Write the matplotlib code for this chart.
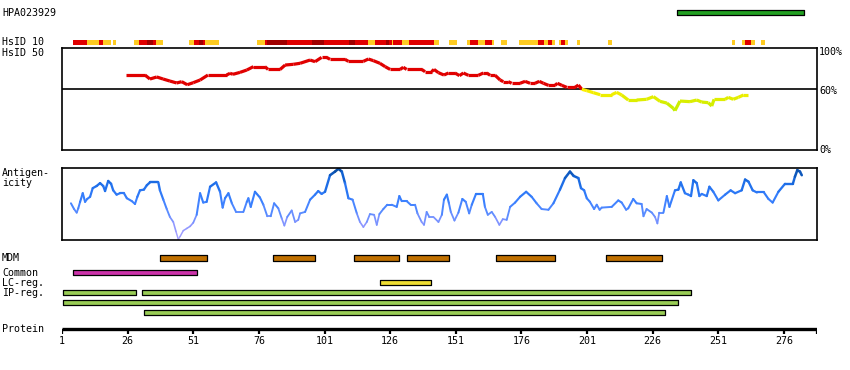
import numpy as np
import matplotlib
matplotlib.use("Agg")
import matplotlib.pyplot as plt
from matplotlib.collections import LineCollection
from matplotlib.colors import LinearSegmentedColormap, to_rgb

# ---- data (residue numbers) ----
axis_end = 288.6
tick_res = [1, 26, 51, 76, 101, 126, 151, 176, 201, 226, 251, 276]

hpa_bar = (235.3, 283.6)

# HsID 10 strip: 1 = gold, 2 = red, 3 = dark red
hsid10_start = [5.2, 10.5, 15.1, 16.6, 20.4, 28.4, 30.3, 33.4, 35.7, 36.8,
                49.4, 51.3, 53.2, 54.7, 55.5, 75.3, 78.3, 79.1, 86.7, 96.2,
                100.8, 110.3, 112.6, 117.6, 120.2, 124.4, 125.6, 126.7, 127.1, 130.5,
                133.2, 142.7, 148.4, 155.3, 156.4, 159.5, 162.1, 164.8, 168.2, 175.1,
                182.3, 184.6, 186.1, 187.7, 190.3, 191.1, 192.6, 197.3, 209.1, 256.4,
                260.2, 261.3, 263.6, 267.2]
hsid10_end = [10.5, 15.1, 16.6, 19.7, 21.6, 30.3, 33.4, 35.7, 36.8, 39.5,
              51.3, 53.2, 54.7, 55.5, 60.8, 78.3, 79.1, 86.7, 96.2, 100.8,
              110.3, 112.6, 117.6, 120.2, 124.4, 125.6, 126.7, 127.1, 130.5, 133.2,
              142.7, 144.6, 151.5, 156.4, 159.5, 162.1, 164.8, 165.6, 170.5, 182.3,
              184.6, 186.1, 187.7, 188.8, 191.1, 192.6, 193.8, 198.5, 210.7, 257.5,
              261.3, 263.6, 264.8, 268.7]
hsid10_level = [2, 1, 2, 1, 1, 1, 2, 3, 2, 1,
                1, 2, 3, 2, 1, 1, 2, 3, 2, 3,
                2, 3, 2, 1, 2, 3, 2, 1, 2, 1,
                2, 1, 1, 1, 2, 1, 2, 1, 1, 1,
                2, 1, 2, 1, 1, 2, 1, 1, 1, 1,
                1, 2, 1, 1]

# HsID 50 identity (%)
hsid50_res = [25.4, 32.6, 34.5, 37.1, 39.5, 42.1, 44.7, 46.6, 48.7, 51.0,
              53.6, 56.6, 63.7, 65.0, 66.1, 68.8, 71.4, 73.9, 78.3, 79.5,
              84.1, 86.0, 89.1, 91.7, 95.5, 97.4, 99.9, 101.8, 103.1, 108.8,
              110.1, 115.8, 117.7, 119.6, 122.1, 124.1, 126.0, 129.8, 131.0, 132.3,
              138.0, 139.3, 141.8, 142.7, 144.4, 146.5, 148.2, 150.7, 152.4, 153.9,
              155.8, 159.6, 161.5, 162.8, 164.1, 166.0, 167.9, 169.1, 171.0, 172.3,
              175.5, 177.4, 179.3, 181.2, 182.8, 184.4, 186.3, 188.8, 189.7, 191.4,
              193.3, 196.4, 197.7, 199.0, 200.9, 203.4, 206.0, 210.4, 212.3, 214.2,
              216.7, 219.9, 223.7, 226.3, 228.8, 231.4, 233.9, 234.5, 236.4, 240.2,
              242.8, 244.7, 247.2, 248.5, 249.4, 253.6, 254.8, 256.7, 258.6, 260.6,
              262.5]
hsid50_val = [73.5, 73.5, 69.6, 71.6, 69.6, 67.6, 65.7, 67.0, 64.0, 66.0,
              68.6, 73.5, 73.5, 75.2, 74.2, 76.1, 78.4, 81.7, 81.7, 79.0,
              79.0, 83.3, 84.0, 85.0, 88.2, 86.6, 90.8, 90.8, 88.9, 88.9,
              86.9, 86.9, 89.2, 87.6, 85.0, 81.7, 79.0, 79.0, 81.1, 79.0,
              79.0, 76.8, 76.8, 79.0, 75.8, 73.5, 75.5, 75.5, 72.9, 75.5,
              73.2, 73.2, 75.5, 75.5, 73.2, 73.2, 68.6, 67.0, 67.0, 65.4,
              65.4, 67.3, 65.4, 65.4, 67.3, 65.4, 63.4, 63.4, 65.4, 63.4,
              61.4, 61.4, 63.7, 59.5, 58.2, 56.2, 54.2, 54.2, 56.5, 53.9,
              49.0, 49.0, 49.7, 52.3, 47.7, 46.0, 40.8, 38.6, 48.0, 47.4,
              49.0, 47.0, 46.4, 43.1, 49.7, 49.7, 51.6, 49.7, 51.6, 53.9,
              53.9]

# antigenicity (0-100 within the panel)
antigen_res = [4.4, 5.6, 6.6, 7.2, 7.9, 8.9, 9.8, 10.6, 11.7, 12.7,
               14.2, 15.5, 16.7, 17.4, 18.6, 19.7, 20.5, 21.8, 23.1, 24.6,
               25.7, 27.6, 28.8, 29.7, 30.7, 32.2, 33.3, 34.5, 37.7, 38.3,
               39.6, 40.9, 42.1, 43.4, 44.4, 45.3, 46.0, 47.2, 48.5, 49.8,
               51.0, 52.3, 53.6, 54.8, 56.1, 57.4, 59.7, 61.2, 62.2, 63.1,
               64.4, 65.7, 67.3, 70.1, 71.4, 72.0, 72.9, 74.5, 76.4, 77.7,
               79.2, 80.5, 81.8, 83.4, 84.7, 85.7, 86.8, 88.5, 89.8, 91.0,
               91.7, 93.6, 95.5, 97.4, 98.6, 99.9, 101.2, 103.1, 105.0, 106.3,
               107.6, 108.8, 110.1, 111.7, 113.3, 114.5, 115.8, 117.1, 118.3, 119.9,
               120.9, 121.9, 123.4, 124.9, 126.6, 128.5, 129.5, 130.4, 132.3, 133.8,
               135.5, 136.4, 138.0, 138.9, 139.9, 140.9, 142.5, 144.4, 145.7, 146.5,
               147.6, 148.4, 149.1, 150.5, 152.0, 153.5, 154.8, 156.1, 157.1, 158.7,
               161.3, 162.1, 163.2, 164.7, 166.0, 167.6, 168.9, 170.4, 171.7, 173.6,
               175.5, 177.8, 179.9, 181.8, 183.7, 186.3, 188.2, 190.7, 192.6, 194.5,
               195.9, 197.7, 198.7, 199.9, 200.9, 202.1, 203.7, 204.7, 205.8, 206.6,
               210.4, 212.9, 214.2, 215.9, 216.7, 218.6, 219.9, 221.8, 222.5, 223.7,
               225.7, 226.9, 227.8, 228.5, 230.1, 231.4, 232.4, 234.5, 235.8, 236.7,
               238.3, 239.6, 240.6, 241.5, 242.8, 243.8, 244.7, 246.6, 247.6, 249.1,
               251.0, 253.6, 255.7, 257.4, 259.9, 261.2, 262.5, 264.1, 265.7, 268.4,
               270.1, 271.7, 273.9, 276.4, 279.4, 280.2, 281.1, 282.1, 282.8]
antigen_val = [51, 43, 38, 44, 53, 65, 53, 57, 60, 72,
               75, 79, 75, 68, 82, 78, 69, 63, 65, 65,
               58, 54, 50, 60, 69, 70, 76, 80, 80, 69,
               56, 43, 32, 25, 12, 1, 5, 13, 16, 19,
               24, 35, 65, 52, 53, 74, 80, 67, 45, 58,
               65, 51, 39, 39, 53, 58, 46, 67, 59, 49,
               33, 33, 51, 44, 30, 20, 32, 41, 25, 28,
               37, 39, 56, 63, 68, 64, 67, 90, 95, 99,
               95, 79, 58, 56, 37, 25, 18, 25, 36, 35,
               21, 36, 43, 49, 49, 46, 61, 54, 54, 49,
               49, 37, 25, 21, 39, 32, 32, 25, 35, 56,
               63, 51, 39, 27, 38, 57, 53, 37, 49, 64,
               64, 46, 35, 39, 32, 21, 29, 28, 46, 52,
               60, 67, 60, 51, 43, 42, 51, 70, 86, 95,
               89, 86, 72, 69, 58, 53, 43, 49, 42, 45,
               46, 55, 52, 42, 44, 57, 51, 50, 33, 43,
               38, 32, 23, 38, 38, 61, 46, 69, 70, 80,
               65, 63, 61, 83, 79, 61, 64, 61, 74, 67,
               55, 63, 69, 65, 69, 84, 81, 69, 66, 66,
               57, 52, 67, 78, 78, 88, 97, 95, 90]

mdm_start = [38.4, 81.5, 112.4, 132.5, 166.4, 208.4]
mdm_end = [56.4, 97.5, 129.5, 148.5, 188.7, 229.5]
common_bar = (5.3, 52.5)
lc_bar = (122.3, 141.5)
ip_rows = [[(1.5, 29.3), (31.4, 240.5)],
           [(1.5, 235.5)],
           [(32.4, 230.6)]]

# ---- figure ----
W, H = 850, 370
fig = plt.figure(figsize=(W / 100, H / 100), dpi=100)
font = dict(family="DejaVu Sans Mono", fontsize=7.2, color="black")


def box(x0, y0, x1, y1):
    return [x0 / W, 1 - y1 / H, (x1 - x0) / W, (y1 - y0) / H]


def label(x, y, s, **kw):
    fig.text(x / W, 1 - y / H, s, va="center", **font, **kw)


ax = fig.add_axes(box(62, 0, 817, 370))
ax.set_xlim(1, axis_end)
ax.set_ylim(H, 0)
ax.axis("off")

# top antibody bar
ax.broken_barh([(hpa_bar[0], hpa_bar[1] - hpa_bar[0])], (10, 5),
               facecolor="#22a022", edgecolor="black", lw=0.9)

# HsID 10 strip
level_col = {1: "#ffcc22", 2: "#e00000", 3: "#a00000"}
for s, e, lv in zip(hsid10_start, hsid10_end, hsid10_level):
    ax.broken_barh([(s, e - s)], (40, 4.7), facecolor=level_col[lv], lw=0)

# feature bars
bar_kw = dict(edgecolor="black", lw=0.9)
ax.broken_barh([(s, e - s) for s, e in zip(mdm_start, mdm_end)], (255.2, 5.3),
               facecolor="#c07000", **bar_kw)
ax.broken_barh([(common_bar[0], common_bar[1] - common_bar[0])], (269.7, 4.9),
               facecolor="#cc33aa", **bar_kw)
ax.broken_barh([(lc_bar[0], lc_bar[1] - lc_bar[0])], (280, 4.7),
               facecolor="#eedd33", **bar_kw)
for i, row in enumerate(ip_rows):
    ax.broken_barh([(s, e - s) for s, e in row], (290 + 10 * i, 4.7),
                   facecolor="#99cc55", **bar_kw)

# protein axis
ax.hlines(329, 1, axis_end, color="black", lw=2.4)
ax.vlines(tick_res + [axis_end], 329, 333.5, color="black", lw=1.6)
for t in tick_res:
    ax.text(t, 341.5, str(t), ha="center", va="center", **font)

# HsID 50 panel
ax1 = fig.add_axes(box(62, 48, 817, 150))
ax1.set_xlim(1, axis_end)
ax1.set_ylim(0, 100)
ax1.set_xticks([])
ax1.set_yticks([])
for sp in ax1.spines.values():
    sp.set_linewidth(1.2)
ax1.axhline(60, color="black", lw=1.2, zorder=1)


def hsid_color(v):
    if v >= 60:
        return to_rgb("#e00000")
    t = min(max((60 - v) / 22.0, 0), 1)
    a, b = np.array(to_rgb("#ffee00")), np.array(to_rgb("#bbee00"))
    return tuple(a + (b - a) * t)


pts = np.column_stack([hsid50_res, hsid50_val])
segs = np.stack([pts[:-1], pts[1:]], axis=1)
mids = (pts[:-1, 1] + pts[1:, 1]) / 2
ax1.add_collection(LineCollection(segs, colors=[hsid_color(m) for m in mids],
                                  linewidths=2.3, capstyle="butt", zorder=2))

# antigenicity panel
ax2 = fig.add_axes(box(62, 168, 817, 240))
ax2.set_xlim(1, axis_end)
ax2.set_ylim(0, 100)
ax2.set_xticks([])
ax2.set_yticks([])
for sp in ax2.spines.values():
    sp.set_linewidth(1.2)

cmap = LinearSegmentedColormap.from_list(
    "antigen", [(0.0, "#aaa2ff"), (0.22, "#8c96ff"), (0.38, "#5a8cff"),
                (0.55, "#3a80ff"), (0.75, "#2272ee"), (0.88, "#1060d0"),
                (1.0, "#0a4a9a")])
pts = np.column_stack([antigen_res, antigen_val])
segs = np.stack([pts[:-1], pts[1:]], axis=1)
mids = (pts[:-1, 1] + pts[1:, 1]) / 2
ax2.add_collection(LineCollection(segs, colors=cmap(mids / 100.0),
                                  linewidths=1.0 + mids / 100.0 * 0.9,
                                  capstyle="round", zorder=2))

# text labels
label(2, 13, "HPA023929")
label(2, 42, "HsID 10")
label(2, 52.5, "HsID 50")
label(2, 173, "Antigen-")
label(2, 183, "icity")
label(2, 258, "MDM")
label(2, 272.5, "Common")
label(2, 282.5, "LC-reg.")
label(2, 292.5, "IP-reg.")
label(2, 328.5, "Protein")
label(819, 52, "100%")
label(819, 90.5, "60%")
label(819, 150, "0%")

fig.savefig("out.png", dpi=100)
